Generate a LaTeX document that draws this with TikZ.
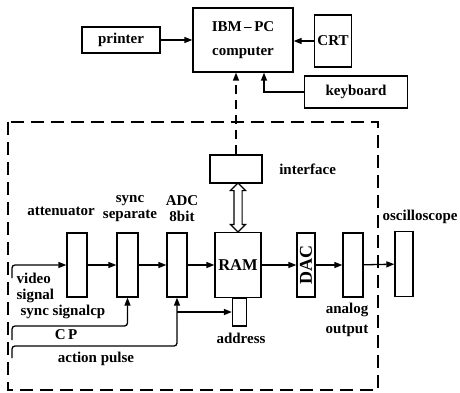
\documentclass[tikz,border=0pt]{standalone}
\usepackage{fontspec}
\setmainfont{Liberation Serif}
\usepackage{graphicx}
\usetikzlibrary{arrows.meta,positioning,shapes.arrows}

\begin{document}
\begin{tikzpicture}[
  x=1pt,y=-1pt,
  line width=1.3pt,
  txt/.style={font=\fontsize{15}{16}\selectfont\bfseries},
  base/.style={txt,draw,inner sep=0pt,align=center},
  block/.style={base,minimum width=20pt,minimum height=64pt},
  lbl/.style={txt,inner sep=0pt,align=center},
  arr/.style={-{Triangle[length=8pt,width=6pt]}},
  frame/.style={dash pattern=on 13pt off 7pt},
  link/.style={dash pattern=on 9pt off 6pt}
]
\useasboundingbox (0,0) rectangle (460,393);

% host side
\node[base,minimum width=78pt,minimum height=26pt] (printer) at (121,40) {printer};
\node[base,minimum width=100pt,minimum height=64pt] (pc) at (243,40) {IBM\,--\,PC\\[8pt]computer};
\node[base,minimum width=37pt,minimum height=52pt] (crt) at (333,41) {CRT};
\node[base,minimum width=103pt,minimum height=32pt] (kbd) at (356,92) {keyboard};
\draw[arr] (printer) -- (pc);
\draw[arr] (crt.west) -- (crt.west -| pc.east);
\draw[arr] (kbd.west) -| ([xshift=21pt]pc.south);

% acquisition board
\draw[frame] (8,122) rectangle (378,390);
\node[base,minimum width=52pt,minimum height=28pt] (iface) at (236,169) {};
\node[lbl,right=16pt of iface] (ifacelbl) {interface};
\draw[arr,link] (iface.north) -- (iface.north |- pc.south);

\node[block] (att) at (77,265) {};
\node[block,minimum width=21pt] (sync) at (127.5,265) {};
\node[block] (adc) at (177,265) {};
\node[base,minimum width=46pt,minimum height=65pt,font=\fontsize{16.5}{18}\selectfont\bfseries] (ram) at (238,265) {RAM};
\node[base,minimum width=14pt,minimum height=28pt] (addr) at (239.5,312) {};
\node[block,minimum width=18pt,font=\fontsize{18}{18}\selectfont\bfseries] (dac) at (306,265) {\rotatebox{90}{DAC}};
\node[block] (analog) at (353,265) {};
\node[block,minimum width=18pt,minimum height=65pt] (osc) at (404,264) {};

\node[double arrow,draw,fill=white,rotate=90,inner sep=3.5pt,minimum height=49pt,
  double arrow head extend=3.5pt,line width=1.1pt] (bus) at (238,207.5) {};

\node[lbl] (attlbl) at (61,211) {attenuator};
\node[lbl] (synclbl) at (130,209) {sync\\separate};
\node[lbl] (adclbl) at (182,209) {ADC\\8bit};
\node[lbl] (addrlbl) at (241,338) {address};
\node[lbl] (analoglbl) at (347,320) {analog\\[4pt]output};
\node[lbl,anchor=west] (osclbl) at (382,217) {oscilloscope};
\node[lbl,align=left,anchor=west] (videolbl) at (16,288) {video\\signal};
\node[lbl,anchor=west] (syncinlbl) at (20,312) {sync signalcp};
\node[lbl] (cplbl) at (66,335) {C\,P};
\node[lbl] (pulselbl) at (96,359) {action pulse};

\coordinate (videoin) at (12,278);
\coordinate (syncin) at (12,340);
\coordinate (cpin) at (12,358);
\draw[arr,rounded corners=3pt] (videoin) |- (att);
\draw[arr,rounded corners=3pt] (syncin) -- ++(0,-14) -| (sync.south);
\draw[arr,rounded corners=3pt] (cpin) -- ++(0,-12) -| (adc.south);
\draw[arr] (adc.south |- addr) -- (addr.west);
\draw[arr] (att) -- (sync);
\draw[arr] (sync) -- (adc);
\draw[arr] (adc) -- (ram);
\draw[arr] (ram) -- (dac);
\draw[arr] (dac) -- (analog);
\draw[arr] (analog) -- (osc);
\end{tikzpicture}
\end{document}
